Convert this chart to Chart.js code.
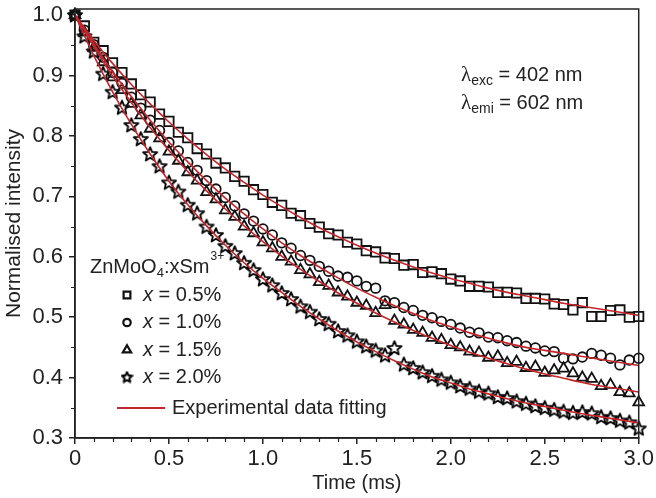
<!DOCTYPE html>
<html>
<head>
<meta charset="utf-8">
<script src="https://cdn.jsdelivr.net/npm/chart.js@4/dist/chart.umd.min.js"></script>
<style>
  html, body { margin: 0; padding: 0; background: #fff; }
  #wrap { width: 656px; height: 498px; }
</style>
</head>
<body>
<div id="wrap"><canvas id="decayChart" width="656" height="498"></canvas></div>
<script>
// time axis of the measured points (ms)
var timeMs = [0.00, 0.05, 0.10, 0.15, 0.20, 0.25, 0.30, 0.35, 0.40, 0.45,
              0.50, 0.55, 0.60, 0.65, 0.70, 0.75, 0.80, 0.85, 0.90, 0.95,
              1.00, 1.05, 1.10, 1.15, 1.20, 1.25, 1.30, 1.35, 1.40, 1.45,
              1.50, 1.55, 1.60, 1.65, 1.70, 1.75, 1.80, 1.85, 1.90, 1.95,
              2.00, 2.05, 2.10, 2.15, 2.20, 2.25, 2.30, 2.35, 2.40, 2.45,
              2.50, 2.55, 2.60, 2.65, 2.70, 2.75, 2.80, 2.85, 2.90, 2.95, 3.00];

// measured decay, x = 0.5 / 1.0 / 1.5 / 2.0 %
var sm05 = [1.000, 0.982, 0.955, 0.941, 0.921, 0.905, 0.886, 0.868, 0.856, 0.836,
            0.824, 0.806, 0.797, 0.779, 0.770, 0.755, 0.747, 0.733, 0.725, 0.711,
            0.703, 0.690, 0.685, 0.672, 0.668, 0.655, 0.649, 0.638, 0.636, 0.624,
            0.621, 0.610, 0.608, 0.598, 0.597, 0.586, 0.587, 0.574, 0.575, 0.572,
            0.563, 0.560, 0.551, 0.551, 0.550, 0.541, 0.541, 0.540, 0.531, 0.531,
            0.530, 0.522, 0.521, 0.512, 0.524, 0.501, 0.501, 0.511, 0.512, 0.500, 0.501];
var sm10 = [1.000, 0.975, 0.951, 0.930, 0.905, 0.887, 0.864, 0.846, 0.826, 0.809,
            0.789, 0.775, 0.756, 0.743, 0.726, 0.712, 0.698, 0.684, 0.671, 0.659,
            0.646, 0.636, 0.623, 0.614, 0.602, 0.594, 0.584, 0.576, 0.568, 0.566,
            0.560, 0.551, 0.548, 0.527, 0.524, 0.516, 0.511, 0.503, 0.499, 0.493,
            0.488, 0.482, 0.475, 0.474, 0.467, 0.466, 0.461, 0.458, 0.452, 0.449,
            0.444, 0.443, 0.432, 0.431, 0.434, 0.440, 0.437, 0.432, 0.421, 0.429, 0.432];
var sm15 = [1.000, 0.971, 0.946, 0.922, 0.897, 0.876, 0.853, 0.834, 0.812, 0.796,
            0.774, 0.759, 0.740, 0.726, 0.707, 0.695, 0.677, 0.666, 0.650, 0.639,
            0.624, 0.614, 0.600, 0.592, 0.578, 0.571, 0.558, 0.552, 0.541, 0.534,
            0.524, 0.519, 0.507, 0.520, 0.494, 0.488, 0.479, 0.474, 0.466, 0.462,
            0.454, 0.450, 0.443, 0.441, 0.433, 0.435, 0.424, 0.426, 0.416, 0.418,
            0.408, 0.412, 0.415, 0.407, 0.400, 0.398, 0.386, 0.388, 0.376, 0.374, 0.359];
var sm20 = [1.000, 0.965, 0.940, 0.903, 0.873, 0.847, 0.818, 0.795, 0.770, 0.750,
            0.723, 0.708, 0.686, 0.672, 0.650, 0.636, 0.618, 0.606, 0.590, 0.578,
            0.563, 0.553, 0.540, 0.530, 0.518, 0.509, 0.497, 0.489, 0.477, 0.470,
            0.460, 0.452, 0.445, 0.437, 0.449, 0.422, 0.416, 0.409, 0.403, 0.397,
            0.392, 0.386, 0.382, 0.377, 0.374, 0.368, 0.366, 0.361, 0.357, 0.353,
            0.350, 0.347, 0.344, 0.342, 0.343, 0.341, 0.335, 0.333, 0.329, 0.326, 0.316];

// fitted curves (red lines)
var fitTime = [0.0, 0.1, 0.2, 0.3, 0.4, 0.5, 0.6, 0.7, 0.8, 0.9, 1.0,
               1.1, 1.2, 1.3, 1.4, 1.5, 1.6, 1.7, 1.8, 1.9, 2.0,
               2.1, 2.2, 2.3, 2.4, 2.5, 2.6, 2.7, 2.8, 2.9, 3.0];
var fit05 = [1.000, 0.958, 0.920, 0.885, 0.853, 0.823, 0.795, 0.769, 0.745, 0.723, 0.702,
             0.683, 0.665, 0.648, 0.633, 0.619, 0.606, 0.594, 0.583, 0.573, 0.564,
             0.556, 0.548, 0.541, 0.535, 0.529, 0.523, 0.518, 0.513, 0.508, 0.503];
var fit10 = [1.000, 0.952, 0.906, 0.865, 0.826, 0.790, 0.757, 0.726, 0.697, 0.671, 0.646,
             0.623, 0.602, 0.583, 0.565, 0.548, 0.533, 0.519, 0.506, 0.494, 0.484,
             0.474, 0.465, 0.457, 0.450, 0.445, 0.440, 0.435, 0.430, 0.425, 0.420];
var fit15 = [1.000, 0.948, 0.899, 0.855, 0.814, 0.776, 0.741, 0.709, 0.679, 0.651, 0.625,
             0.601, 0.579, 0.559, 0.540, 0.523, 0.507, 0.492, 0.478, 0.465, 0.453,
             0.442, 0.432, 0.423, 0.414, 0.406, 0.399, 0.392, 0.386, 0.381, 0.376];
var fit20 = [1.000, 0.933, 0.873, 0.819, 0.770, 0.725, 0.686, 0.651, 0.619, 0.590, 0.564,
             0.541, 0.518, 0.497, 0.477, 0.459, 0.443, 0.428, 0.414, 0.401, 0.391,
             0.381, 0.373, 0.365, 0.358, 0.352, 0.346, 0.340, 0.335, 0.330, 0.325];

var seriesLabels = ['0.5%', '1.0%', '1.5%', '2.0%'];
var fitLabel = 'Experimental data fitting';
var xTicks = [0, 0.5, 1.0, 1.5, 2.0, 2.5, 3.0];
var yTicks = [0.3, 0.4, 0.5, 0.6, 0.7, 0.8, 0.9, 1.0];

var RED = '#c4262c';
var INK = '#222222';
var FONT = "'Liberation Sans', Arial, sans-serif";

// open five-point star marker
function makeStar(size, outer, inner, lw) {
    var c = document.createElement('canvas');
    c.width = size; c.height = size;
    var g = c.getContext('2d');
    var cx = size / 2, cy = size / 2 + 0.5;
    g.beginPath();
    for (var k = 0; k < 10; k++) {
        var r = k % 2 ? inner : outer;
        var a = -Math.PI / 2 + k * Math.PI / 5;
        var px = cx + r * Math.cos(a), py = cy + r * Math.sin(a);
        if (k === 0) g.moveTo(px, py); else g.lineTo(px, py);
    }
    g.closePath();
    g.lineWidth = lw;
    g.lineJoin = 'round';
    g.strokeStyle = '#000';
    g.stroke();
    return c;
}
var starImg = makeStar(18, 7.4, 3.3, 1.8);
var starSmall = makeStar(13, 5.4, 2.6, 2.1);

function pts(xs, ys) {
    return xs.map(function (t, i) { return { x: t, y: ys[i] }; });
}

var markerStyles = [
    { pointStyle: 'rect', pointRadius: 6.6 },
    { pointStyle: 'circle', pointRadius: 4.8 },
    { pointStyle: 'triangle', pointRadius: 6.2 },
    { pointStyle: starImg, pointRadius: 7 }
];
var measured = [sm05, sm10, sm15, sm20];
var fits = [fit05, fit10, fit15, fit20];

var datasets = [];
// red lines first so they are drawn on top of the markers
fits.forEach(function (f, i) {
    datasets.push({
        label: 'fit ' + seriesLabels[i],
        data: pts(fitTime, f),
        showLine: true,
        borderColor: RED,
        borderWidth: 1.6,
        pointRadius: 0,
        cubicInterpolationMode: 'monotone',
        fill: false
    });
});
measured.forEach(function (m, i) {
    datasets.push({
        label: 'x = ' + seriesLabels[i],
        data: pts(timeMs, m),
        showLine: false,
        pointStyle: markerStyles[i].pointStyle,
        pointRadius: markerStyles[i].pointRadius,
        pointBorderColor: '#111',
        pointBackgroundColor: 'rgba(0,0,0,0)',
        pointBorderWidth: 1.8,
        clip: false
    });
});

// frame, minor ticks, annotation and legend
var decorPlugin = {
    id: 'decor',
    afterDraw: function (chart) {
        var ctx = chart.ctx;
        var a = chart.chartArea;
        var xs = chart.scales.x, ys = chart.scales.y;
        ctx.save();
        ctx.strokeStyle = INK;
        ctx.lineWidth = 1.5;
        ctx.strokeRect(a.left, a.top, a.right - a.left, a.bottom - a.top);

        // minor ticks
        ctx.lineWidth = 1.2;
        ctx.beginPath();
        for (var v = 0.35; v < 1.0; v += 0.1) {
            var py = Math.round(ys.getPixelForValue(v)) + 0.5;
            ctx.moveTo(a.left - 4, py); ctx.lineTo(a.left, py);
        }
        for (var k = 1; k < 30; k++) {
            if (k % 5 === 0) continue;
            var px = Math.round(xs.getPixelForValue(k / 10)) + 0.5;
            ctx.moveTo(px, a.bottom); ctx.lineTo(px, a.bottom + 4);
        }
        ctx.stroke();

        ctx.fillStyle = INK;
        ctx.textBaseline = 'middle';
        ctx.textAlign = 'left';

        // excitation / emission wavelengths
        function lambdaLine(x, y, sub, rest) {
            ctx.font = "21px 'Liberation Serif', serif";
            ctx.fillText('\u03bb', x, y);
            x += ctx.measureText('\u03bb').width;
            ctx.font = '14px ' + FONT;
            ctx.fillText(sub, x, y + 6);
            x += ctx.measureText(sub).width;
            ctx.font = '20px ' + FONT;
            ctx.fillText(rest, x, y);
        }
        lambdaLine(461, 75, 'exc', ' = 402 nm');
        lambdaLine(461, 103, 'emi', ' = 602 nm');

        // legend title ZnMoO4:xSm3+
        var lx = 90, ly = 267;
        ctx.font = '20px ' + FONT;
        ctx.fillText('ZnMoO', lx, ly);
        lx += ctx.measureText('ZnMoO').width;
        ctx.font = '13px ' + FONT;
        ctx.fillText('4', lx, ly + 6);
        lx += ctx.measureText('4').width;
        ctx.font = '20px ' + FONT;
        ctx.fillText(':xSm', lx, ly);
        lx += ctx.measureText(':xSm').width;
        ctx.font = '12px ' + FONT;
        ctx.fillText('3+', lx + 1, ly - 10);

        // legend entries
        var smallStyles = [
            { pointStyle: 'rect', radius: 4.8 },
            { pointStyle: 'circle', radius: 3.7 },
            { pointStyle: 'triangle', radius: 4.8 },
            { pointStyle: starSmall, radius: 5 }
        ];
        var rowY = [295, 322.5, 350, 377];
        ctx.strokeStyle = '#111';
        ctx.lineWidth = 2.2;
        for (var i = 0; i < 4; i++) {
            ctx.fillStyle = '#fff';
            Chart.helpers.drawPoint(ctx, {
                pointStyle: smallStyles[i].pointStyle,
                radius: smallStyles[i].radius,
                borderWidth: 2.2,
                rotation: 0
            }, 127, rowY[i]);
            ctx.fillStyle = INK;
            var tx = 143;
            ctx.font = 'italic 20px ' + FONT;
            ctx.fillText('x', tx, rowY[i]);
            tx += ctx.measureText('x').width;
            ctx.font = '20px ' + FONT;
            ctx.fillText(' = ' + seriesLabels[i], tx, rowY[i]);
        }
        ctx.strokeStyle = RED;
        ctx.lineWidth = 1.8;
        ctx.beginPath();
        ctx.moveTo(117, 408); ctx.lineTo(165, 408);
        ctx.stroke();
        ctx.font = '20px ' + FONT;
        ctx.fillText(fitLabel, 172, 408);
        ctx.restore();
    }
};

var config = {
    type: 'scatter',
    data: { datasets: datasets },
    options: {
        responsive: false,
        animation: false,
        devicePixelRatio: 1,
        layout: { padding: { top: 9, right: 15, left: 0, bottom: 0 } },
        plugins: {
            legend: { display: false },
            tooltip: { enabled: false }
        },
        scales: {
            x: {
                type: 'linear',
                position: 'bottom',
                min: 0,
                max: 3.0,
                afterBuildTicks: function (scale) {
                    scale.ticks = xTicks.map(function (v) { return { value: v }; });
                },
                afterFit: function (scale) { scale.height = 60; },
                ticks: {
                    color: INK,
                    padding: 2,
                    maxRotation: 0,
                    font: { family: FONT, size: 22 },
                    callback: function (v) { return v === 0 ? '0' : Number(v).toFixed(1); }
                },
                grid: { display: true, drawOnChartArea: false, drawTicks: true, tickLength: 6, color: INK, lineWidth: 1.5 },
                border: { display: true, color: INK, width: 1.5 },
                title: {
                    display: true,
                    text: 'Time (ms)',
                    color: INK,
                    font: { family: FONT, size: 20 },
                    padding: { top: 0, bottom: 3 }
                }
            },
            y: {
                type: 'linear',
                min: 0.3,
                max: 1.01,
                afterBuildTicks: function (scale) {
                    scale.ticks = yTicks.map(function (v) { return { value: v }; });
                },
                afterFit: function (scale) { scale.width = 75; },
                ticks: {
                    color: INK,
                    padding: 6,
                    font: { family: FONT, size: 22, lineHeight: 0.2 },
                    callback: function (v) { return Number(v).toFixed(1); }
                },
                grid: { display: true, drawOnChartArea: false, drawTicks: true, tickLength: 6, color: INK, lineWidth: 1.5 },
                border: { display: true, color: INK, width: 1.5 },
                title: {
                    display: true,
                    text: 'Normalised intensity',
                    color: INK,
                    font: { family: FONT, size: 21 },
                    padding: { top: 2, bottom: 0 }
                }
            }
        }
    },
    plugins: [decorPlugin]
};

var canvas = document.getElementById('decayChart');
var decayChart = new Chart(canvas, config);
</script>
</body>
</html>
